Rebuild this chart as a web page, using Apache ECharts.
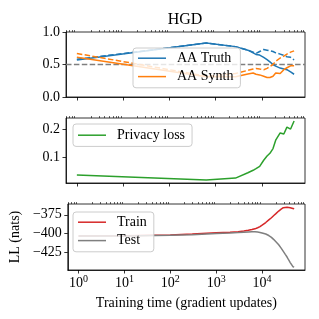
<!DOCTYPE html>
<html>
<head>
<meta charset="utf-8">
<script src="https://cdn.jsdelivr.net/npm/echarts@6/dist/echarts.min.js"></script>
<style>
html,body{margin:0;padding:0;background:#fff;}
#c{width:319px;height:319px;}
</style>
</head>
<body>
<div id="c"></div>
<script>
// ---- data ----
const aaSteps = [1, 630, 2700, 5000, 6500, 7500, 9000, 11000, 13000, 15000, 17500, 20000, 25000, 30000, 35000, 42000, 50000];
const aaTruth     = [0.57, 0.83, 0.775, 0.72, 0.68, 0.655, 0.645, 0.61, 0.575, 0.54, 0.50, 0.475, 0.445, 0.43, 0.42, 0.385, 0.35];
const aaTruthTest = [0.58, 0.83, 0.775, 0.72, 0.69, 0.67, 0.70, 0.73, 0.72, 0.71, 0.70, 0.68, 0.66, 0.64, 0.62, 0.61, 0.57];
const aaSynth     = [0.61, 0.31, 0.31, 0.355, 0.37, 0.35, 0.34, 0.32, 0.30, 0.30, 0.32, 0.37, 0.36, 0.42, 0.45, 0.48, 0.48];
const aaSynthTest = [0.67, 0.32, 0.36, 0.41, 0.43, 0.44, 0.43, 0.42, 0.44, 0.47, 0.50, 0.55, 0.60, 0.63, 0.66, 0.69, 0.71];
const privacyLoss = [0.035, 0.017, 0.024, 0.043, 0.052, 0.058, 0.066, 0.088, 0.103, 0.113, 0.130, 0.160, 0.186, 0.182, 0.207, 0.200, 0.229];
const baseline = 0.5;

const llSteps = [1, 10, 100, 300, 1000, 2000, 3000, 4000, 5000, 6000, 7000, 8000, 9000, 10000, 12000, 14000, 16000, 18000, 20000, 23000, 26000, 29000, 32000, 35000, 38000, 41000, 44000, 47000, 50000];
const llTrain = [-403.5, -403.2, -402.3, -401, -399.3, -398.5, -397.8, -397, -396, -395, -394, -392.5, -391, -389, -385.5, -382, -379, -376, -373.5, -370, -367.5, -365.5, -364.5, -365, -366.5, -365.5, -367, -366.5, -367];
const llTest  = [-403.7, -403.5, -402.8, -401.8, -400.2, -399.5, -399, -398.5, -398.2, -398, -398, -398.3, -398.8, -399.5, -401, -403, -405.5, -408.5, -411.5, -415.5, -420, -424.5, -428.5, -432, -436, -439.5, -442, -445, -445.5];

const xMajor = [0, 1, 2, 3, 4]; // log10 exponents
const y1Ticks = [0.0, 0.5, 1.0];
const y2Ticks = [0.1, 0.2];
const y3Ticks = [-425, -400, -375];

const title = 'HGD';
const yName3 = 'LL (nats)';
const xName = 'Training time (gradient updates)';

// ---- build ----
const FONT = 'Liberation Serif';
const C = {blue:'#1f77b4', orange:'#ff7f0e', green:'#2ca02c', red:'#d62728', gray:'#7f7f7f'};
const XMIN = -0.235, XMAX = 4.935;
const minorTicks = [];
for (let k = -1; k <= 4; k++) for (let m = 2; m <= 9; m++) {
  const v = k + Math.log10(m);
  if (v > XMIN && v < XMAX) minorTicks.push(v);
}
const pts = (xs, ys) => xs.map((s, i) => [Math.log10(s), ys[i]]);

const grids = [
  {left: 66, top: 32, width: 239, height: 65},
  {left: 66, top: 118, width: 239, height: 65},
  {left: 66, top: 204, width: 239, height: 66}
];
grids.forEach(g => { g.show = true; g.borderColor = '#000'; g.borderWidth = 0.8; g.backgroundColor = 'transparent'; });

const xAxes = [];
const yAxes = [];
for (let i = 0; i < 3; i++) {
  xAxes.push({
    type: 'value', gridIndex: i, min: XMIN, max: XMAX,
    axisLine: {show: true, onZero: false, lineStyle: {color: '#000', width: 0.8}},
    axisTick: {show: true, length: 3.5, customValues: xMajor, lineStyle: {color: '#000', width: 0.8}},
    axisLabel: i === 2 ? {
      show: true, customValues: xMajor, margin: 4,
      formatter: v => '{b|10}{s|' + Math.round(v) + '}',
      rich: {b: {fontFamily: FONT, fontSize: 14, color: '#000'},
             s: {fontFamily: FONT, fontSize: 10, color: '#000', padding: [0, 0, 9, 0]}}
    } : {show: false},
    splitLine: {show: false},
    name: i === 2 ? xName : '', nameLocation: 'middle', nameGap: 26,
    nameTextStyle: {fontFamily: FONT, fontSize: 14, color: '#000'}
  });
  xAxes.push({
    type: 'value', gridIndex: i, min: XMIN, max: XMAX,
    axisLine: {show: false, onZero: false},
    axisTick: {show: true, length: 2, customValues: minorTicks, lineStyle: {color: '#000', width: 0.6}},
    axisLabel: {show: false}, splitLine: {show: false}
  });
}
const yCfg = [
  {min: 0, max: 1, ticks: y1Ticks, fmt: v => v.toFixed(1)},
  {min: 0.0064, max: 0.2396, ticks: y2Ticks, fmt: v => v.toFixed(1)},
  {min: -449.5, max: -360.5, ticks: y3Ticks, fmt: v => (v < 0 ? '\u2212' : '') + Math.abs(v)}
];
yCfg.forEach((c, i) => {
  yAxes.push({
    type: 'value', gridIndex: i, min: c.min, max: c.max,
    axisLine: {show: true, onZero: false, lineStyle: {color: '#000', width: 0.8}},
    axisTick: {show: true, length: 3.5, customValues: c.ticks, lineStyle: {color: '#000', width: 0.8}},
    axisLabel: {show: true, customValues: c.ticks, formatter: c.fmt, margin: 6,
                fontFamily: FONT, fontSize: 14, color: '#000'},
    splitLine: {show: false},
    name: i === 2 ? yName3 : '', nameLocation: 'middle', nameGap: 44, nameRotate: 90,
    nameTextStyle: {fontFamily: FONT, fontSize: 14, color: '#000'}
  });
});

const line = (name, xs, ys, color, xi, yi, dashed) => ({
  type: 'line', name, data: pts(xs, ys), xAxisIndex: xi, yAxisIndex: yi,
  symbol: 'none', showSymbol: false, silent: true, animation: false,
  lineStyle: {color, width: 1.5, type: dashed ? [5.5, 2.4] : 'solid'},
  itemStyle: {color}
});

const series = [
  line('AA Truth', aaSteps, aaTruth, C.blue, 0, 0, false),
  line('AA Truth test', aaSteps, aaTruthTest, C.blue, 0, 0, true),
  line('AA Synth', aaSteps, aaSynth, C.orange, 0, 0, false),
  line('AA Synth test', aaSteps, aaSynthTest, C.orange, 0, 0, true),
  {
    type: 'line', name: 'baseline', xAxisIndex: 0, yAxisIndex: 0, symbol: 'none', animation: false,
    data: [[XMIN, baseline], [XMAX, baseline]],
    lineStyle: {color: C.gray, width: 1.5, type: [5.5, 2.4]}, itemStyle: {color: C.gray}, z: 1
  },
  line('Privacy loss', aaSteps, privacyLoss, C.green, 2, 1, false),
  line('Train', llSteps, llTrain, C.red, 4, 2, false),
  line('Test', llSteps, llTest, C.gray, 4, 2, false)
];

const legendBase = {
  orient: 'vertical', icon: 'rect', itemWidth: 28, itemHeight: 1.5, itemGap: 4,
  backgroundColor: 'rgba(255,255,255,0.8)', borderColor: '#cccccc', borderWidth: 1, borderRadius: 3,
  selectedMode: false,
  textStyle: {fontFamily: FONT, fontSize: 14, color: '#000', lineHeight: 14.4, padding: [0, 0, 0, 6]}
};
const legends = [
  Object.assign({}, legendBase, {data: ['AA Truth', 'AA Synth'], left: 133, top: 48, padding: [3, 7, 4, 5]}),
  Object.assign({}, legendBase, {data: ['Privacy loss'], left: 73, top: 124, padding: [4, 7, 4, 5]}),
  Object.assign({}, legendBase, {data: ['Train', 'Test'], left: 73, top: 212, padding: [3, 7, 4, 5]})
];

const chart = echarts.init(document.getElementById('c'), null, {renderer: 'canvas'});
chart.setOption({
  animation: false,
  backgroundColor: '#fff',
  title: {text: title, left: 185, top: 12, textAlign: 'center',
          textStyle: {fontFamily: FONT, fontSize: 16, fontWeight: 'normal', color: '#000'}, padding: 0},
  grid: grids, xAxis: xAxes, yAxis: yAxes, series, legend: legends
});
</script>
</body>
</html>
